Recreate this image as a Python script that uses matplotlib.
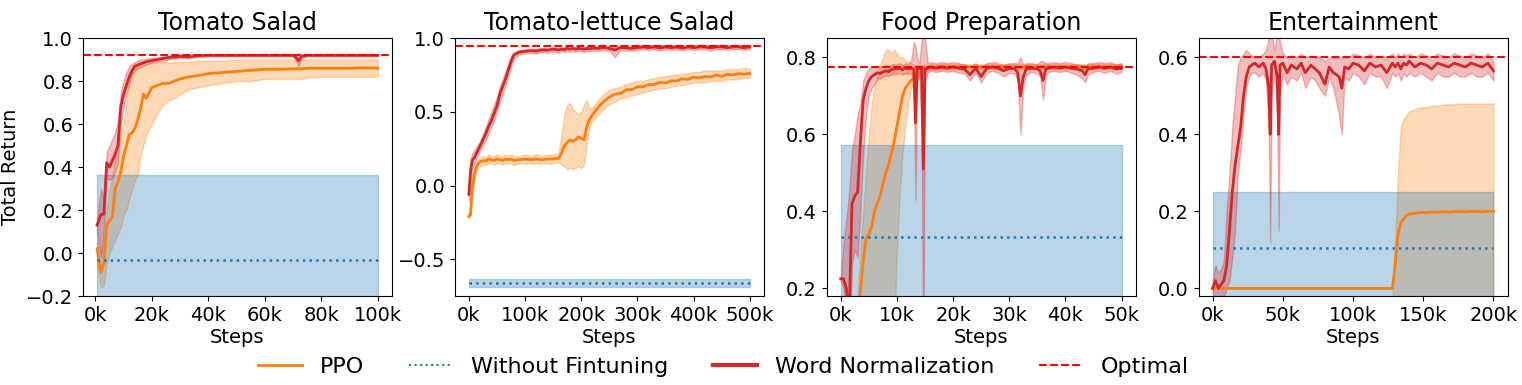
import matplotlib
matplotlib.use('Agg')
import matplotlib.pyplot as plt
from matplotlib.lines import Line2D
from matplotlib.ticker import FuncFormatter

titles = ['Tomato Salad', 'Tomato-lettuce Salad', 'Food Preparation', 'Entertainment']
labels = ['PPO', 'Without Fintuning', 'Word Normalization', 'Optimal']

# optimal return per task, and the without-finetuning baseline (mean, band)
optimal = [0.92, 0.948, 0.776, 0.6]
wf_mean = [-0.03, -0.663, 0.334, 0.106]
wf_lo = [-0.425, -0.69, 0.096, -0.04]
wf_hi = [0.365, -0.635, 0.572, 0.25]
wf_steps = [[0.6, 100], [0, 500], [0, 50], [0, 200]]

# ---- Tomato Salad (steps in k)
s1 = [0.6, 2, 3, 4, 5, 6, 7, 8, 9, 10, 11, 12, 13, 14, 15, 16, 17, 18, 20, 22,
      24, 26, 28, 30, 33, 36, 40, 45, 50, 55, 60, 65, 70, 71, 72, 73, 75, 80, 85, 90, 95, 100]
ppo1 = [0.02, -0.09, -0.05, 0.13, 0.15, 0.17, 0.3, 0.33, 0.38, 0.45,
        0.5, 0.55, 0.56, 0.58, 0.62, 0.67, 0.74, 0.72, 0.77, 0.78,
        0.79, 0.79, 0.8, 0.81, 0.82, 0.825, 0.835, 0.84, 0.845, 0.85,
        0.855, 0.855, 0.857, 0.857, 0.858, 0.857, 0.86, 0.86, 0.86, 0.86, 0.862, 0.86]
ppo1_lo = [-0.05, -0.16, -0.15, -0.05, 0.0, 0.03, 0.06, 0.09, 0.12, 0.18,
           0.2, 0.25, 0.3, 0.34, 0.36, 0.45, 0.5, 0.55, 0.6, 0.65,
           0.69, 0.71, 0.72, 0.74, 0.76, 0.77, 0.78, 0.79, 0.8, 0.8,
           0.81, 0.81, 0.81, 0.81, 0.81, 0.81, 0.815, 0.82, 0.82, 0.82, 0.82, 0.82]
ppo1_hi = [0.05, 0.0, 0.05, 0.2, 0.3, 0.35, 0.45, 0.5, 0.55, 0.6,
           0.7, 0.8, 0.84, 0.86, 0.87, 0.87, 0.88, 0.88, 0.885, 0.885,
           0.89, 0.885, 0.89, 0.89, 0.89, 0.895, 0.895, 0.895, 0.9, 0.9,
           0.9, 0.9, 0.9, 0.9, 0.9, 0.9, 0.9, 0.9, 0.9, 0.9, 0.9, 0.9]
wn1 = [0.13, 0.18, 0.18, 0.42, 0.4, 0.43, 0.46, 0.5, 0.68, 0.74,
       0.78, 0.82, 0.85, 0.87, 0.875, 0.88, 0.885, 0.89, 0.895, 0.9,
       0.905, 0.91, 0.912, 0.915, 0.913, 0.918, 0.92, 0.92, 0.92, 0.92,
       0.92, 0.92, 0.92, 0.91, 0.895, 0.915, 0.92, 0.92, 0.92, 0.92, 0.92, 0.92]
wn1_lo = [0.1, -0.02, 0.1, 0.35, 0.34, 0.35, 0.38, 0.42, 0.6, 0.68,
          0.74, 0.79, 0.83, 0.85, 0.86, 0.865, 0.87, 0.878, 0.885, 0.89,
          0.895, 0.9, 0.905, 0.908, 0.905, 0.912, 0.914, 0.915, 0.915, 0.915,
          0.915, 0.915, 0.915, 0.895, 0.87, 0.905, 0.915, 0.915, 0.915, 0.915, 0.915, 0.915]
wn1_hi = [0.16, 0.3, 0.25, 0.47, 0.5, 0.53, 0.56, 0.62, 0.75, 0.8,
          0.84, 0.87, 0.88, 0.89, 0.895, 0.9, 0.9, 0.905, 0.908, 0.91,
          0.915, 0.918, 0.92, 0.922, 0.92, 0.924, 0.925, 0.925, 0.925, 0.925,
          0.925, 0.925, 0.925, 0.925, 0.93, 0.925, 0.925, 0.925, 0.925, 0.925, 0.925, 0.925]

# ---- Tomato-lettuce Salad
s2 = [0, 3, 6, 10, 15, 20, 25, 30, 35, 40, 45, 50, 55, 60, 65, 70, 75, 80, 90, 100,
      110, 120, 130, 140, 150, 160, 165, 170, 175, 180, 185, 190, 195, 200, 205, 210, 215, 220, 230, 240,
      250, 260, 270, 280, 290, 300, 310, 320, 330, 340, 350, 360, 370, 380, 390, 400, 410, 420, 430, 440,
      450, 460, 470, 480, 490, 500]
ppo2 = [-0.21, -0.19, -0.02, 0.08, 0.14, 0.16, 0.17, 0.165, 0.18, 0.175,
        0.17, 0.18, 0.175, 0.17, 0.18, 0.175, 0.18, 0.17, 0.175, 0.18,
        0.175, 0.18, 0.175, 0.18, 0.18, 0.185, 0.22, 0.27, 0.29, 0.31,
        0.3, 0.31, 0.33, 0.32, 0.31, 0.4, 0.45, 0.48, 0.53, 0.57,
        0.6, 0.62, 0.625, 0.65, 0.65, 0.67, 0.67, 0.685, 0.685, 0.7,
        0.695, 0.71, 0.71, 0.725, 0.72, 0.735, 0.73, 0.74, 0.735, 0.75,
        0.74, 0.755, 0.75, 0.76, 0.755, 0.76]
ppo2_lo = [-0.22, -0.21, -0.06, 0.04, 0.11, 0.13, 0.14, 0.14, 0.15, 0.15,
           0.14, 0.15, 0.15, 0.14, 0.15, 0.15, 0.15, 0.14, 0.15, 0.15,
           0.15, 0.15, 0.15, 0.15, 0.15, 0.16, 0.14, 0.13, 0.11, 0.12,
           0.11, 0.12, 0.13, 0.12, 0.14, 0.3, 0.4, 0.44, 0.48, 0.52,
           0.55, 0.57, 0.59, 0.6, 0.61, 0.62, 0.63, 0.64, 0.65, 0.66,
           0.66, 0.67, 0.68, 0.68, 0.69, 0.7, 0.7, 0.7, 0.71, 0.71,
           0.71, 0.72, 0.72, 0.72, 0.73, 0.73]
ppo2_hi = [-0.2, -0.17, 0.02, 0.12, 0.17, 0.19, 0.2, 0.19, 0.21, 0.2,
           0.2, 0.21, 0.2, 0.2, 0.21, 0.2, 0.21, 0.2, 0.2, 0.21,
           0.2, 0.21, 0.2, 0.21, 0.21, 0.22, 0.35, 0.48, 0.55, 0.56,
           0.52, 0.5, 0.48, 0.5, 0.55, 0.58, 0.52, 0.53, 0.58, 0.62,
           0.65, 0.66, 0.67, 0.69, 0.7, 0.71, 0.71, 0.72, 0.73, 0.74,
           0.74, 0.75, 0.75, 0.76, 0.76, 0.77, 0.77, 0.78, 0.78, 0.78,
           0.78, 0.79, 0.79, 0.79, 0.8, 0.79]
wn2 = [-0.06, 0.1, 0.17, 0.19, 0.23, 0.27, 0.31, 0.35, 0.4, 0.44,
       0.49, 0.54, 0.62, 0.67, 0.72, 0.78, 0.84, 0.885, 0.905, 0.91,
       0.915, 0.912, 0.92, 0.918, 0.925, 0.92, 0.925, 0.922, 0.93, 0.925,
       0.93, 0.924, 0.93, 0.928, 0.925, 0.93, 0.928, 0.932, 0.93, 0.935,
       0.93, 0.92, 0.935, 0.933, 0.93, 0.935, 0.94, 0.935, 0.94, 0.933,
       0.94, 0.935, 0.94, 0.932, 0.94, 0.935, 0.94, 0.94, 0.933, 0.94,
       0.94, 0.935, 0.94, 0.94, 0.935, 0.94]
wn2_lo = [-0.1, 0.02, 0.12, 0.15, 0.2, 0.24, 0.27, 0.31, 0.35, 0.4,
          0.44, 0.5, 0.57, 0.62, 0.68, 0.74, 0.8, 0.86, 0.89, 0.895,
          0.9, 0.895, 0.905, 0.9, 0.91, 0.9, 0.91, 0.905, 0.915, 0.905,
          0.915, 0.905, 0.915, 0.91, 0.905, 0.915, 0.91, 0.915, 0.915, 0.92,
          0.915, 0.87, 0.92, 0.915, 0.915, 0.92, 0.925, 0.92, 0.925, 0.915,
          0.925, 0.92, 0.925, 0.915, 0.925, 0.92, 0.925, 0.925, 0.915, 0.925,
          0.925, 0.92, 0.925, 0.925, 0.92, 0.925]
wn2_hi = [-0.02, 0.18, 0.22, 0.24, 0.27, 0.3, 0.35, 0.4, 0.45, 0.5,
          0.55, 0.6, 0.67, 0.72, 0.77, 0.83, 0.88, 0.905, 0.92, 0.925,
          0.93, 0.928, 0.935, 0.932, 0.94, 0.935, 0.94, 0.938, 0.945, 0.94,
          0.945, 0.94, 0.945, 0.943, 0.94, 0.945, 0.943, 0.947, 0.945, 0.95,
          0.945, 0.945, 0.95, 0.948, 0.945, 0.95, 0.955, 0.95, 0.955, 0.948,
          0.955, 0.95, 0.955, 0.948, 0.955, 0.95, 0.955, 0.955, 0.948, 0.955,
          0.955, 0.95, 0.955, 0.955, 0.95, 0.955]

# ---- Food Preparation
s3 = [0, 0.5, 1, 1.5, 2, 2.5, 3, 3.5, 4, 4.5, 5, 5.5, 6, 6.5, 7, 7.5, 8, 8.5, 9, 9.5,
      10, 10.5, 11, 11.5, 12, 12.5, 13, 13.3, 13.6, 14, 14.4, 14.7, 15, 15.5, 16, 17, 18, 19, 20, 21,
      22, 23, 24, 25, 26, 27, 28, 29, 30, 31, 31.5, 32, 32.5, 33, 34, 35, 35.5, 36, 36.5, 37,
      38, 39, 40, 41, 42, 43, 43.5, 44, 45, 46, 47, 48, 49, 50]
ppo3 = [0.1, 0.08, 0.05, 0.06, 0.08, 0.1, 0.12, 0.19, 0.27, 0.33,
        0.34, 0.36, 0.4, 0.42, 0.44, 0.47, 0.5, 0.52, 0.55, 0.58,
        0.62, 0.66, 0.7, 0.72, 0.73, 0.74, 0.745, 0.75, 0.755, 0.76,
        0.765, 0.77, 0.772, 0.774, 0.775, 0.775, 0.776, 0.775, 0.776, 0.775,
        0.775, 0.776, 0.775, 0.776, 0.775, 0.776, 0.775, 0.776, 0.775, 0.776,
        0.775, 0.776, 0.775, 0.776, 0.775, 0.776, 0.775, 0.776, 0.775, 0.776,
        0.775, 0.776, 0.775, 0.776, 0.775, 0.776, 0.775, 0.776, 0.775, 0.776,
        0.775, 0.776, 0.775, 0.776]
ppo3_lo = [0.0, 0.0, 0.0, 0.0, 0.0, 0.0, 0.0, 0.0, 0.0, 0.0,
           0.0, 0.0, 0.0, 0.0, 0.0, 0.0, 0.0, 0.0, 0.0, 0.1,
           0.3, 0.45, 0.55, 0.62, 0.68, 0.72, 0.73, 0.735, 0.74, 0.745,
           0.75, 0.755, 0.76, 0.765, 0.768, 0.768, 0.77, 0.768, 0.77, 0.768,
           0.768, 0.77, 0.768, 0.77, 0.768, 0.77, 0.768, 0.77, 0.768, 0.77,
           0.768, 0.77, 0.768, 0.77, 0.768, 0.77, 0.768, 0.77, 0.768, 0.77,
           0.768, 0.77, 0.768, 0.77, 0.768, 0.77, 0.768, 0.77, 0.768, 0.77,
           0.768, 0.77, 0.768, 0.77]
ppo3_hi = [0.1, 0.1, 0.1, 0.1, 0.12, 0.15, 0.18, 0.3, 0.4, 0.5,
           0.6, 0.68, 0.72, 0.75, 0.78, 0.8, 0.82, 0.82, 0.81, 0.82,
           0.81, 0.8, 0.8, 0.79, 0.79, 0.785, 0.78, 0.78, 0.78, 0.78,
           0.78, 0.78, 0.78, 0.78, 0.782, 0.782, 0.782, 0.782, 0.782, 0.782,
           0.782, 0.782, 0.782, 0.782, 0.782, 0.782, 0.782, 0.782, 0.782, 0.782,
           0.782, 0.782, 0.782, 0.782, 0.782, 0.782, 0.782, 0.782, 0.782, 0.782,
           0.782, 0.782, 0.782, 0.782, 0.782, 0.782, 0.782, 0.782, 0.782, 0.782,
           0.782, 0.782, 0.782, 0.782]
wn3 = [0.225, 0.225, 0.2, 0.12, 0.42, 0.44, 0.45, 0.58, 0.69, 0.72,
       0.74, 0.75, 0.755, 0.76, 0.758, 0.762, 0.765, 0.763, 0.768, 0.77,
       0.77, 0.772, 0.768, 0.772, 0.77, 0.772, 0.77, 0.63, 0.77, 0.772,
       0.77, 0.51, 0.77, 0.772, 0.775, 0.772, 0.775, 0.772, 0.775, 0.772,
       0.77, 0.755, 0.772, 0.75, 0.772, 0.775, 0.772, 0.765, 0.772, 0.77,
       0.76, 0.7, 0.75, 0.77, 0.772, 0.77, 0.765, 0.74, 0.77, 0.772,
       0.775, 0.772, 0.775, 0.772, 0.77, 0.765, 0.755, 0.77, 0.772, 0.775,
       0.772, 0.775, 0.77, 0.772]
wn3_lo = [0.22, 0.2, 0.1, 0.0, 0.26, 0.3, 0.28, 0.4, 0.55, 0.65,
          0.7, 0.72, 0.73, 0.745, 0.745, 0.75, 0.752, 0.752, 0.755, 0.757,
          0.757, 0.76, 0.755, 0.76, 0.757, 0.76, 0.74, 0.43, 0.74, 0.76,
          0.6, 0.0, 0.74, 0.76, 0.765, 0.762, 0.765, 0.762, 0.765, 0.76,
          0.758, 0.74, 0.76, 0.735, 0.76, 0.765, 0.76, 0.75, 0.76, 0.758,
          0.74, 0.6, 0.72, 0.755, 0.762, 0.758, 0.75, 0.69, 0.755, 0.762,
          0.765, 0.762, 0.765, 0.76, 0.755, 0.745, 0.735, 0.755, 0.762, 0.765,
          0.76, 0.765, 0.758, 0.762]
wn3_hi = [0.23, 0.32, 0.38, 0.45, 0.56, 0.6, 0.65, 0.68, 0.74, 0.76,
          0.77, 0.775, 0.775, 0.778, 0.775, 0.778, 0.78, 0.778, 0.782, 0.782,
          0.782, 0.785, 0.78, 0.785, 0.782, 0.79, 0.84, 0.83, 0.8, 0.785,
          0.85, 0.87, 0.85, 0.785, 0.788, 0.785, 0.788, 0.785, 0.788, 0.785,
          0.782, 0.775, 0.785, 0.775, 0.785, 0.788, 0.785, 0.78, 0.785, 0.785,
          0.785, 0.8, 0.78, 0.785, 0.785, 0.782, 0.79, 0.79, 0.785, 0.785,
          0.788, 0.785, 0.788, 0.785, 0.782, 0.78, 0.775, 0.785, 0.785, 0.788,
          0.785, 0.788, 0.782, 0.785]

# ---- Entertainment
s4 = [0, 2, 4, 6, 8, 10, 12, 14, 16, 18, 20, 22, 24, 26, 28, 30, 33, 36, 38, 40,
      41, 42, 44, 46, 47, 48, 50, 53, 56, 60, 63, 66, 70, 73, 76, 80, 83, 86, 90, 92,
      94, 97, 100, 104, 108, 112, 116, 120, 124, 128, 130, 132, 134, 136, 138, 140, 144, 148, 152, 156,
      160, 164, 168, 172, 176, 180, 184, 188, 192, 196, 200]
ppo4 = [0.0] * 50 + [0.06, 0.14, 0.17, 0.18, 0.19, 0.193, 0.195, 0.197, 0.197, 0.198,
                     0.198, 0.199, 0.198, 0.199, 0.2, 0.199, 0.2, 0.2, 0.199, 0.2, 0.2]
ppo4_lo = [0.0] * 50 + [-0.1, -0.12, -0.09, -0.08, -0.07, -0.07, -0.075, -0.075, -0.076, -0.077,
                        -0.077, -0.078, -0.08, -0.08, -0.08, -0.08, -0.08, -0.08, -0.08, -0.08, -0.08]
ppo4_hi = [0.0] * 50 + [0.12, 0.3, 0.42, 0.44, 0.45, 0.46, 0.465, 0.47, 0.47, 0.475,
                        0.475, 0.477, 0.478, 0.478, 0.48, 0.48, 0.48, 0.48, 0.48, 0.48, 0.48]
wn4 = [0.0, 0.02, 0.0, 0.01, 0.02, 0.06, 0.15, 0.25, 0.32, 0.37,
       0.42, 0.5, 0.55, 0.575, 0.58, 0.585, 0.575, 0.585, 0.57, 0.52,
       0.4, 0.58, 0.59, 0.55, 0.4, 0.58, 0.585, 0.56, 0.58, 0.57,
       0.585, 0.56, 0.58, 0.57, 0.56, 0.53, 0.575, 0.56, 0.55, 0.52,
       0.575, 0.57, 0.585, 0.58, 0.565, 0.585, 0.575, 0.58, 0.56, 0.585,
       0.575, 0.585, 0.57, 0.585, 0.58, 0.59, 0.575, 0.585, 0.58, 0.57,
       0.585, 0.58, 0.575, 0.585, 0.58, 0.575, 0.585, 0.58, 0.575, 0.585,
       0.565]
wn4_lo = [-0.02, -0.02, -0.02, -0.02, -0.02, 0.0, 0.02, 0.08, 0.15, 0.3,
          0.36, 0.45, 0.52, 0.55, 0.56, 0.56, 0.55, 0.56, 0.54, 0.4,
          0.12, 0.5, 0.56, 0.45, 0.15, 0.5, 0.56, 0.53, 0.55, 0.54,
          0.56, 0.52, 0.55, 0.54, 0.52, 0.5, 0.55, 0.52, 0.45, 0.4,
          0.55, 0.54, 0.56, 0.55, 0.53, 0.56, 0.55, 0.55, 0.52, 0.56,
          0.55, 0.56, 0.54, 0.56, 0.55, 0.56, 0.55, 0.56, 0.55, 0.54,
          0.56, 0.55, 0.55, 0.56, 0.55, 0.55, 0.56, 0.55, 0.55, 0.56,
          0.54]
wn4_hi = [0.02, 0.06, 0.04, 0.05, 0.07, 0.2, 0.3, 0.42, 0.5, 0.58,
          0.6, 0.61, 0.62, 0.61, 0.605, 0.6, 0.6, 0.61, 0.62, 0.65,
          0.66, 0.66, 0.62, 0.66, 0.66, 0.64, 0.61, 0.6, 0.605, 0.6,
          0.61, 0.6, 0.605, 0.6, 0.6, 0.59, 0.6, 0.6, 0.6, 0.6,
          0.6, 0.6, 0.61, 0.605, 0.6, 0.61, 0.6, 0.605, 0.6, 0.61,
          0.6, 0.61, 0.6, 0.61, 0.605, 0.61, 0.6, 0.61, 0.605, 0.6,
          0.61, 0.605, 0.6, 0.61, 0.605, 0.6, 0.61, 0.605, 0.6, 0.61,
          0.59]

steps = [s1, s2, s3, s4]
ppo = [(ppo1, ppo1_lo, ppo1_hi), (ppo2, ppo2_lo, ppo2_hi), (ppo3, ppo3_lo, ppo3_hi), (ppo4, ppo4_lo, ppo4_hi)]
wn = [(wn1, wn1_lo, wn1_hi), (wn2, wn2_lo, wn2_hi), (wn3, wn3_lo, wn3_hi), (wn4, wn4_lo, wn4_hi)]

xlims = [(-4.4, 105), (-25, 525), (-2.5, 52.5), (-10, 210)]
xticks = [range(0, 101, 20), range(0, 501, 100), range(0, 51, 10), range(0, 201, 50)]
ylims = [(-0.2, 1.0), (-0.75, 1.0), (0.18, 0.85), (-0.02, 0.65)]
yticks = [[-0.2, 0.0, 0.2, 0.4, 0.6, 0.8, 1.0], [-0.5, 0.0, 0.5, 1.0], [0.2, 0.4, 0.6, 0.8], [0.0, 0.2, 0.4, 0.6]]

orange = '#ff7f0e'
blue = '#1f77b4'
red = '#d62728'

fig, axes = plt.subplots(1, 4, figsize=(15.22, 3.85), dpi=100)
fig.subplots_adjust(left=0.0545, right=0.9905, bottom=0.231, top=0.901, wspace=0.2036)

for i, ax in enumerate(axes):
    x = steps[i]
    m, lo, hi = ppo[i]
    ax.fill_between(x, lo, hi, color=orange, alpha=0.3)
    ax.plot(x, m, color=orange, lw=2)
    wx = wf_steps[i]
    ax.fill_between(wx, [wf_lo[i]] * 2, [wf_hi[i]] * 2, color=blue, alpha=0.3)
    ax.plot(wx, [wf_mean[i]] * 2, color=blue, ls=':', lw=1.8)
    m, lo, hi = wn[i]
    ax.fill_between(x, lo, hi, color=red, alpha=0.3)
    ax.plot(x, m, color=red, lw=2)
    ax.axhline(optimal[i], color='red', ls='--', lw=1.5)

    ax.set_xlim(xlims[i])
    ax.set_ylim(ylims[i])
    ax.set_xticks(list(xticks[i]))
    ax.set_yticks(yticks[i])
    ax.xaxis.set_major_formatter(FuncFormatter(lambda v, p: '%dk' % v))
    ax.tick_params(labelsize=14)
    ax.set_title(titles[i], fontsize=17)
    ax.set_xlabel('Steps', fontsize=14, labelpad=2)
axes[0].set_ylabel('Total Return', fontsize=14)

handles = [Line2D([], [], color=orange, lw=2),
           Line2D([], [], color=blue, ls=':', lw=1.5),
           Line2D([], [], color=red, lw=3),
           Line2D([], [], color='red', ls='--', lw=1.5)]
fig.legend(handles, labels, loc='center', bbox_to_anchor=(0.4754, 0.047), ncol=4,
           frameon=False, fontsize=16, columnspacing=2.0)

plt.savefig('out.png', dpi=100)
